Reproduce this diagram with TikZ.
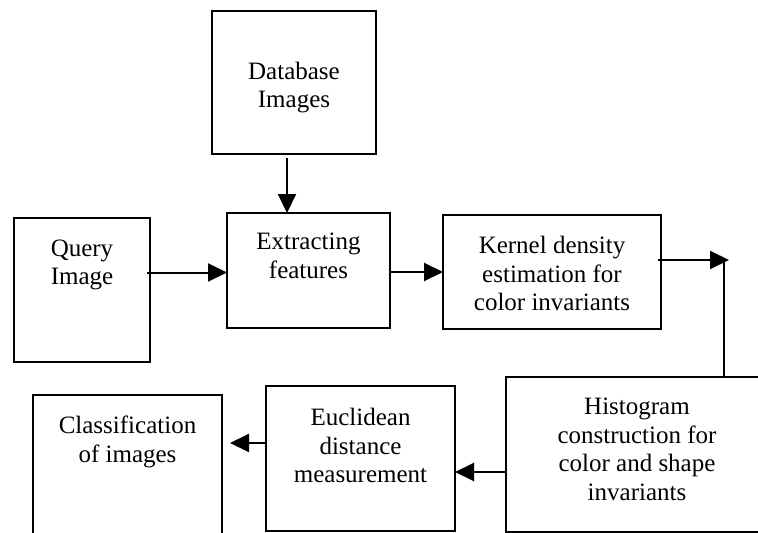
\documentclass[tikz,border=0pt]{standalone}
\usepackage{fontspec}
\setmainfont{Liberation Serif}
\usetikzlibrary{arrows.meta,calc}
\begin{document}
\begin{tikzpicture}[x=1pt,y=-1pt,
  box/.style={draw=black, line width=2pt, inner sep=0pt, outer sep=0pt},
  txt/.style={inner sep=0pt, align=center, anchor=north, font=\fontsize{25}{28.5}\selectfont},
  conn/.style={line width=2pt},
  arr/.style={conn, -{Triangle[length=19pt,width=18pt]}}]
\clip (0,0) rectangle (758,533);
% boxes
\node[box, minimum width=164pt, minimum height=143pt] (db)    at (294,82.5)  {};
\node[box, minimum width=136pt, minimum height=144pt] (query) at (82,290)    {};
\node[box, minimum width=163pt, minimum height=115pt] (ext)   at (308.5,270.5) {};
\node[box, minimum width=218pt, minimum height=114pt] (ker)   at (552,272)   {};
\node[box, minimum width=262pt, minimum height=155pt] (hist)  at (637,454.5) {};
\node[box, minimum width=189pt, minimum height=145pt] (euc)   at (360.5,458.5) {};
\node[box, minimum width=189pt, minimum height=175pt] (cls)   at (127.5,482.5) {};
% texts
\node[txt] (dbt)    at ([yshift=-50.5pt]db.north)  {Database\\Images};
\node[txt] (queryt) at ([yshift=-21.5pt]query.north) {Query\\Image};
\node[txt] (extt)   at ([yshift=-20pt]ext.north)   {Extracting\\features};
\node[txt] (kert)   at ([yshift=-21pt]ker.north)   {Kernel density\\estimation for\\color invariants};
\node[txt] (histt)  at ([yshift=-21pt]hist.north)  {Histogram\\construction for\\color and shape\\invariants};
\node[txt] (euct)   at ([yshift=-22pt]euc.north)   {Euclidean\\distance\\measurement};
\node[txt] (clst)   at ([yshift=-21pt]cls.north)   {Classification\\of images};
% connectors
\coordinate (tip)  at (729,260);
\coordinate (bend) at (724,260);
\draw[arr] ($(db.south)+(-7,4)$) -- ($(db.south |- ext.north)+(-7,0)$);
\draw[arr] ($(query.east |- ext.west)+(-3,2)$) -- ($(ext.west)+(0,2)$);
\draw[arr] (ext.east |- ker.west) -- (ker.west);
\draw[arr] ($(ker.east)+(-3,-12)$) -- (tip);
\draw[conn] (bend |- hist.north) -- (bend);
\draw[arr] ($(hist.west |- euc.east)+(0,13.5)$) -- ($(euc.east)+(0,13.5)$);
\draw[arr] ($(euc.west)+(0,-15.5)$) -- ($(euc.west -| cls.east)+(8,-15.5)$);
\end{tikzpicture}
\end{document}
